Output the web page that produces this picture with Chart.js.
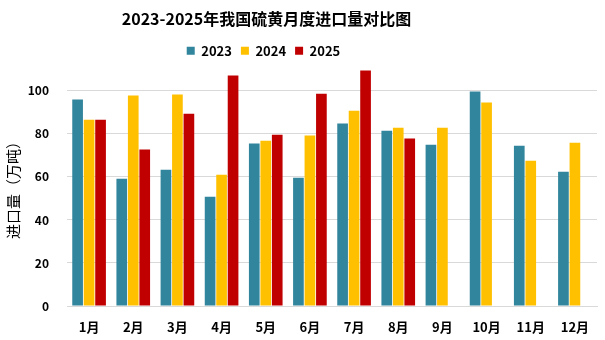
<!DOCTYPE html>
<html>
<head>
<meta charset="utf-8">
<script src="https://cdn.jsdelivr.net/npm/chart.js"></script>
<style>
  html, body { margin: 0; padding: 0; background: #fff; }
  #wrap { width: 605px; height: 340px; }
</style>
</head>
<body>
<div id="wrap"><canvas id="importChart" width="605" height="340"></canvas></div>
<script>
const months = ["1月", "2月", "3月", "4月", "5月", "6月", "7月", "8月", "9月", "10月", "11月", "12月"];
const imports2023 = [96, 59.2, 63.3, 50.8, 75.5, 59.6, 84.8, 81.5, 75, 99.7, 74.5, 62.4];
const imports2024 = [86.6, 97.8, 98.3, 61, 76.8, 79.2, 90.8, 82.9, 82.9, 94.6, 67.5, 75.9];
const imports2025 = [86.6, 72.7, 89.4, 107.1, 79.6, 98.7, 109.5, 77.8, null, null, null, null];
const yTicks = [0, 20, 40, 60, 80, 100];

const fontFamily = "'Noto Sans CJK SC', 'DejaVu Sans', sans-serif";

// title and legend sit left of centre in the original
const shiftHeader = {
  id: "shiftHeader",
  afterLayout(chart) {
    const t = chart.titleBlock;
    if (t) { t.left -= 34; t.right -= 34; }
    const l = chart.legend;
    if (l) { l.left -= 37; l.right -= 37; }
  },
};

const ctx = document.getElementById("importChart").getContext("2d");
new Chart(ctx, {
  type: "bar",
  data: {
    labels: months,
    datasets: [
      { label: "2023", data: imports2023, backgroundColor: "#31859C" },
      { label: "2024", data: imports2024, backgroundColor: "#FFC000" },
      { label: "2025", data: imports2025, backgroundColor: "#C00000" },
    ],
  },
  plugins: [shiftHeader],
  options: {
    responsive: false,
    animation: false,
    layout: { padding: { left: 4, right: 8, top: 4, bottom: 2 } },
    datasets: {
      bar: { categoryPercentage: 0.78, barPercentage: 0.93 },
    },
    plugins: {
      title: {
        display: true,
        text: "2023-2025年我国硫黄月度进口量对比图",
        color: "#000",
        font: { family: fontFamily, size: 16, weight: "bold" },
        padding: { top: 5, bottom: 7 },
      },
      legend: {
        display: true,
        labels: {
          color: "#000",
          boxWidth: 8,
          boxHeight: 8,
          padding: 9,
          font: { family: fontFamily, size: 13, weight: "bold" },
        },
      },
      tooltip: { enabled: false },
    },
    scales: {
      x: {
        grid: { display: false },
        border: { display: true, color: "#D9D9D9" },
        ticks: {
          color: "#000",
          padding: 5,
          maxRotation: 0,
          font: { family: fontFamily, size: 13, weight: "bold" },
        },
        afterFit: (scale) => { scale.height = 32; },
      },
      y: {
        min: 0,
        max: 111,
        afterBuildTicks: (scale) => {
          scale.ticks = yTicks.map((v) => ({ value: v }));
        },
        grid: { color: "#D9D9D9", drawTicks: false },
        border: { display: false },
        ticks: {
          color: "#000",
          padding: 18,
          font: { family: fontFamily, size: 12, weight: "bold" },
        },
        title: {
          display: true,
          text: "进口量（万吨）",
          color: "#000",
          font: { family: fontFamily, size: 15 },
          padding: { top: 0, bottom: 2 },
        },
        afterFit: (scale) => { scale.width = 63; },
      },
    },
  },
});
</script>
</body>
</html>
